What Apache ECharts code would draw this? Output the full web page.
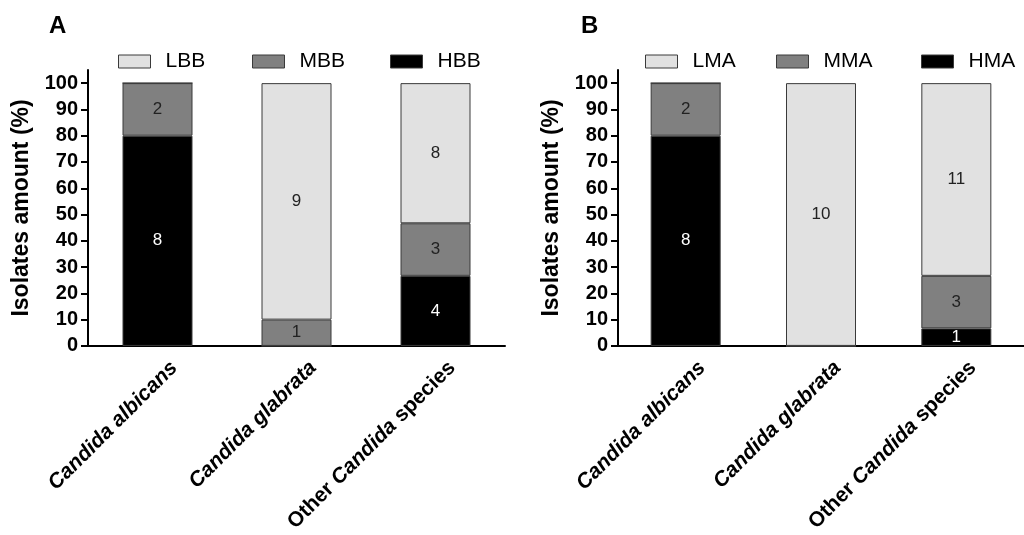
<!DOCTYPE html>
<html>
<head>
<meta charset="utf-8">
<script src="https://cdn.jsdelivr.net/npm/echarts@6/dist/echarts.min.js"></script>
<style>html,body{margin:0;padding:0;background:#fff}#c{width:1024px;height:535px}</style>
</head>
<body>
<div id="c"></div>
<script>
// Categories
const categories = ['Candida albicans', 'Candida glabrata', 'Other Candida species'];
// Panel A: counts of isolates (biofilm formation)
const namesA = ['LBB', 'MBB', 'HBB'];
const lbbCounts = [0, 9, 8];
const mbbCounts = [2, 1, 3];
const hbbCounts = [8, 0, 4];
// Panel B: counts of isolates
const namesB = ['LMA', 'MMA', 'HMA'];
const lmaCounts = [0, 10, 11];
const mmaCounts = [2, 0, 3];
const hmaCounts = [8, 0, 1];
// Y axis tick labels
const yTicks = [0, 10, 20, 30, 40, 50, 60, 70, 80, 90, 100];

const FONT = '"Liberation Sans", Arial, Helvetica, sans-serif';
const colLight = '#e1e1e1', colMid = '#808080', colDark = '#000000', border = '#3a3a3a';

function pct(counts, all) {
  return counts.map((c, i) => {
    const tot = all.reduce((s, arr) => s + arr[i], 0);
    return { value: c / tot * 100, count: c };
  });
}
const allA = [lbbCounts, mbbCounts, hbbCounts];
const allB = [lmaCounts, mmaCounts, hmaCounts];

function barSeries(name, counts, all, color, labelColor, idx, stack) {
  return {
    name: name, type: 'bar', stack: stack, xAxisIndex: idx, yAxisIndex: idx,
    barWidth: 70,
    data: pct(counts, all),
    itemStyle: { color: color, borderColor: border, borderWidth: 1 },
    label: {
      show: true, position: 'inside', color: labelColor, fontFamily: FONT, fontSize: 17,
      formatter: p => p.data.count > 0 ? String(p.data.count) : ''
    },
    emphasis: { disabled: true }
  };
}

function xAxis(idx) {
  return {
    type: 'category', gridIndex: idx, data: categories,
    axisLine: { lineStyle: { color: '#000', width: 2 } },
    axisTick: { show: false },
    axisLabel: {
      rotate: 45, margin: 2, interval: 0, verticalAlign: 'top', padding: [13, 0, 0, 0],
      formatter: v => {
        if (v.indexOf('Other') === 0) return '{n|Other }{i|Candida}{n| species}';
        return '{i|' + v + '}';
      },
      rich: {
        i: { fontFamily: FONT, fontSize: 21, fontWeight: 'bold', fontStyle: 'italic', color: '#000' },
        n: { fontFamily: FONT, fontSize: 21, fontWeight: 'bold', color: '#000' }
      }
    }
  };
}
function yAxis(idx) {
  return {
    type: 'value', gridIndex: idx, min: 0, max: 105, interval: 10,
    name: 'Isolates amount (%)', nameLocation: 'middle', nameGap: 55,
    nameTextStyle: { fontFamily: FONT, fontSize: 23, fontWeight: 'bold', color: '#000' },
    axisLine: { show: true, lineStyle: { color: '#000', width: 2 } },
    axisTick: { show: true, length: 7, lineStyle: { color: '#000', width: 2 }, customValues: yTicks },
    axisLabel: { fontFamily: FONT, fontSize: 20, fontWeight: 'bold', color: '#000', margin: 10, customValues: yTicks },
    splitLine: { show: false }
  };
}
function legend(name, left) {
  return {
    data: [name], left: left, top: 51, padding: 0,
    icon: 'rect', itemWidth: 32, itemHeight: 13,
    itemStyle: { borderColor: border, borderWidth: 1 },
    textStyle: { fontFamily: FONT, fontSize: 21, color: '#000', padding: [0, 0, 0, 10] },
    selectedMode: false
  };
}

const chart = echarts.init(document.getElementById('c'), null, { renderer: 'canvas' });
chart.setOption({
  animation: false,
  backgroundColor: '#fff',
  title: [
    { text: 'A', left: 49, top: 14, padding: 0, textStyle: { fontFamily: FONT, fontSize: 24, fontWeight: 'bold', color: '#000' } },
    { text: 'B', left: 581, top: 14, padding: 0, textStyle: { fontFamily: FONT, fontSize: 24, fontWeight: 'bold', color: '#000' } }
  ],
  legend: [
    legend('LBB', 118), legend('MBB', 252), legend('HBB', 390),
    legend('LMA', 645), legend('MMA', 776), legend('HMA', 921)
  ],
  grid: [
    { left: 88, top: 70, width: 417, height: 277 },
    { left: 618, top: 70, width: 417, height: 277 }
  ],
  xAxis: [xAxis(0), xAxis(1)],
  yAxis: [yAxis(0), yAxis(1)],
  series: [
    barSeries('HBB', hbbCounts, allA, colDark, '#fff', 0, 'a'),
    barSeries('MBB', mbbCounts, allA, colMid, '#222', 0, 'a'),
    barSeries('LBB', lbbCounts, allA, colLight, '#222', 0, 'a'),
    barSeries('HMA', hmaCounts, allB, colDark, '#fff', 1, 'b'),
    barSeries('MMA', mmaCounts, allB, colMid, '#222', 1, 'b'),
    barSeries('LMA', lmaCounts, allB, colLight, '#222', 1, 'b')
  ]
});
</script>
</body>
</html>
